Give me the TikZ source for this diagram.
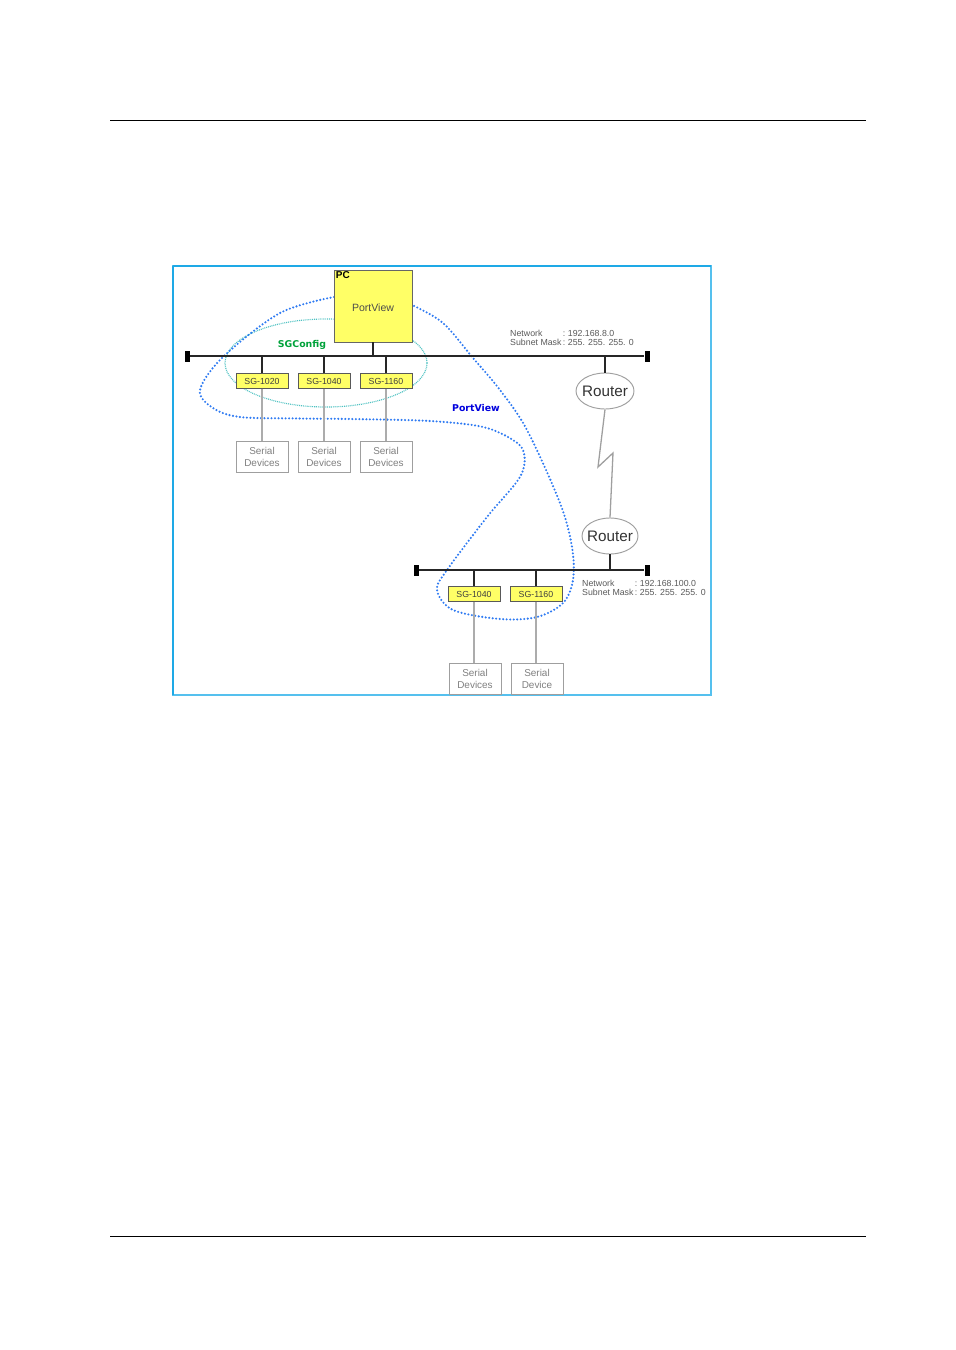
\documentclass[tikz,border=0pt]{standalone}
\usepackage{fontspec}
\setmainfont{Liberation Sans}
\newfontfamily\labelfont{DejaVu Sans}
\usepackage{xcolor}
\usetikzlibrary{shapes.geometric, positioning, calc}

\definecolor{pcyellow}{HTML}{FFFF66}
\definecolor{framecyan}{HTML}{1EA9E6}
\definecolor{framelight}{HTML}{55C0EE}
\definecolor{sgteal}{HTML}{4FC2C2}
\definecolor{pvdots}{HTML}{2F7BF2}
\definecolor{sggreen}{HTML}{00A23A}
\definecolor{pvblue}{HTML}{0000DD}

\begin{document}
\begin{tikzpicture}[
    x=0.03cm, y=-0.03cm,
    every node/.style={inner sep=0pt},
    pcbox/.style={draw=gray!80!black, fill=pcyellow, line width=0.6pt, minimum width=2.34cm, minimum height=2.16cm},
    sgbox/.style={draw=gray!70!black, fill=pcyellow, line width=0.6pt, minimum width=1.56cm, minimum height=0.45cm, font=\fontsize{7.5}{8}\selectfont, text=black!75},
    serialbox/.style={draw=gray!75, fill=white, line width=0.8pt, minimum width=1.56cm, minimum height=0.93cm, align=center, font=\fontsize{8.5}{10.2}\selectfont, text=gray},
    router/.style={draw=gray!75, ellipse, fill=white, line width=0.8pt, inner xsep=-2.8pt, inner ysep=-1pt, minimum width=1.74cm, minimum height=1.08cm, font=\fontsize{13}{14}\selectfont, text=black!80},
    buscap/.style={fill=black, minimum width=0.15cm, minimum height=0.33cm},
    bus/.style={line width=2pt, black!85},
    stub/.style={line width=1.6pt, black!85},
    drop/.style={line width=1.1pt, gray!65},
    nettext/.style={anchor=north west, font=\fontsize{7.5}{7.7}\selectfont, text=black!65},
    sgcfg/.style={draw=sgteal, line width=1pt, dash pattern=on 0.8pt off 0.8pt},
    pvpath/.style={draw=pvdots, line width=2pt, line cap=round, dash pattern=on 0pt off 3pt}
]
    \useasboundingbox (0,0) rectangle (955,1350);

    % Page rules
    \draw[line width=0.8pt] (110,120) -- (866,120);
    \draw[line width=0.8pt] (110,1236) -- (866,1236);

    % Figure frame
    \draw[framelight, line width=1pt] (173,266) rectangle (711,695);
    \draw[framecyan, line width=1.6pt] (173,266) -- (711,266);
    \draw[framecyan, line width=0.9pt] (173,266) -- (173,695);

    % SGConfig reach
    \draw[sgcfg] (326,363) ellipse [x radius=3.03cm, y radius=1.32cm];

    % PortView reach
    \draw[pvpath] plot[smooth, tension=0.55] coordinates {
        (334,297) (280,313) (223,357) (200,390) (213,408) (240,417) (300,418.5)
        (350,419) (430,421) (483,427) (513,440) (524,453) (520,477) (487,517)
        (447,570) (437,590) (453,610) (500,619) (537,617) (563,603) (573,580)
        (572,547) (560,503) (527,430) (500,390) (473,358) (443,323) (412,305)};

    % Upper network
    \node[buscap] (b1w) at (187,356) {};
    \node[buscap] (b1e) at (647,356) {};
    \draw[bus] (b1w) -- (b1e);

    \node[pcbox] (pc) at (373,306) {};
    \node[anchor=north west, font=\bfseries\fontsize{8.5}{9}\selectfont] (pctag) at ([shift={(2,2)}]pc.north west) {PC};
    \node[font=\fontsize{9}{10}\selectfont, text=black!70] (pcsoft) at (373,308) {PortView};
    \draw[stub] (pc.south) -- (pc.south |- b1w);

    \foreach \n/\x/\t in {a/262/1020, b/324/1040, c/386/1160} {
        \node[sgbox] (sg\n) at (\x,381) {SG-\t};
        \node[serialbox] (ser\n) at (\x,456.5) {Serial\\Devices};
        \draw[stub] (sg\n.north) -- (sg\n.north |- b1w);
        \draw[drop] (sg\n.south) -- (ser\n.north);
    }

    \node[nettext] (net1) at (510,330) {\begin{tabular}{@{}l@{\,:\ }l@{}}Network & 192.168.8.0\\Subnet Mask & 255. 255. 255. 0\end{tabular}};

    % WAN link
    \node[router] (rta) at (605,391) {Router};
    \node[router, minimum width=1.68cm] (rtb) at (610,536) {Router};
    \draw[stub] (rta.north) -- (rta.north |- b1w);
    \coordinate (zz1) at (598,467);
    \coordinate (zz2) at (613,453);
    \draw[drop, gray!75] (rta.south) -- (zz1) -- (zz2) -- (rtb.north);

    % Lower network
    \node[buscap] (b2w) at (416,570) {};
    \node[buscap] (b2e) at (647,570) {};
    \draw[bus] (b2w) -- (b2e);
    \draw[stub] (rtb.south) -- (rtb.south |- b2w);

    \foreach \n/\x/\t/\d in {d/474/1040/Devices, e/536/1160/Device} {
        \node[sgbox] (sg\n) at (\x,594) {SG-\t};
        \node[serialbox] (ser\n) at (\x+1,678.5) {Serial\\\d};
        \draw[stub] (sg\n.north) -- (sg\n.north |- b2w);
        \draw[drop] (sg\n.south) -- (sg\n.south |- ser\n.north);
    }

    \node[nettext] (net2) at (582,580) {\begin{tabular}{@{}l@{\,:\ }l@{}}Network & 192.168.100.0\\Subnet Mask & 255. 255. 255. 0\end{tabular}};

    % Tool labels
    \node[font=\labelfont\bfseries\fontsize{8}{9}\selectfont, text=sggreen] (sglabel) at (302,345) {SGConfig};
    \node[font=\labelfont\bfseries\fontsize{8}{9}\selectfont, text=pvblue] (pvlabel) at (476,408) {PortView};
\end{tikzpicture}
\end{document}
